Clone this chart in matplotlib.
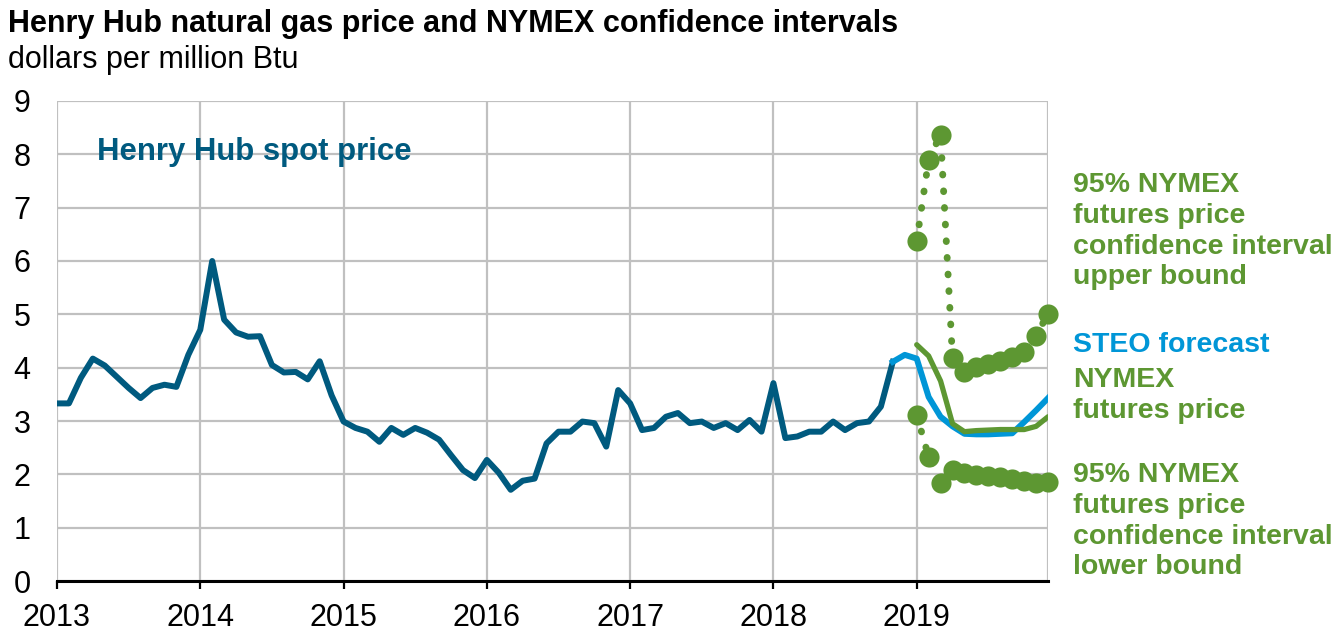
import numpy as np
import matplotlib.pyplot as plt

plt.rcParams['font.family'] = ['Liberation Sans', 'DejaVu Sans']

# monthly Henry Hub spot price, Jan 2013 - Nov 2018
spot = [3.33, 3.33, 3.81, 4.17, 4.04, 3.83, 3.62, 3.43, 3.62, 3.68, 3.64, 4.24,
        4.71, 6.00, 4.90, 4.66, 4.58, 4.59, 4.05, 3.91, 3.92, 3.78, 4.12, 3.48,
        2.99, 2.87, 2.80, 2.61, 2.87, 2.74, 2.87, 2.78, 2.65, 2.36, 2.08, 1.93,
        2.27, 2.03, 1.71, 1.88, 1.92, 2.58, 2.80, 2.80, 2.99, 2.96, 2.52, 3.58,
        3.33, 2.83, 2.87, 3.08, 3.15, 2.96, 2.99, 2.87, 2.96, 2.83, 3.02, 2.80,
        3.71, 2.68, 2.71, 2.80, 2.80, 2.99, 2.83, 2.96, 2.99, 3.27, 4.11]

# STEO forecast, Nov 2018 - Dec 2019
steo = [4.11, 4.24, 4.17, 3.45, 3.08, 2.90, 2.76, 2.75, 2.75, 2.76, 2.77, 2.98, 3.20, 3.43]

# NYMEX futures and 95% confidence interval, Jan 2019 - Dec 2019
nymex = [4.43, 4.22, 3.75, 2.95, 2.80, 2.82, 2.83, 2.84, 2.84, 2.84, 2.90, 3.08]
upper = [6.37, 7.90, 8.37, 4.18, 3.91, 4.01, 4.07, 4.13, 4.20, 4.30, 4.60, 5.01]
lower = [3.11, 2.33, 1.83, 2.08, 2.02, 1.99, 1.97, 1.95, 1.92, 1.87, 1.84, 1.86]

years = ['2013', '2014', '2015', '2016', '2017', '2018', '2019']

dark_blue = '#005A7F'
light_blue = '#0096D7'
green = '#5D9732'
grid_grey = '#C0C0C0'

x_spot = np.arange(len(spot))
x_steo = np.arange(len(spot) - 1, len(spot) - 1 + len(steo))
x_fc = np.arange(72, 72 + len(nymex))

fig = plt.figure(figsize=(13.44, 6.35), dpi=100)
ax = fig.add_axes([0.0424, 0.085, 0.7374, 0.756])

ax.plot(x_spot, spot, color=dark_blue, lw=4.3, solid_joinstyle='round', zorder=3)
ax.plot(x_steo, steo, color=light_blue, lw=4.3, solid_joinstyle='round', zorder=3)
ax.plot(x_fc, nymex, color=green, lw=3.8, solid_joinstyle='round',
        solid_capstyle='round', zorder=4)

# confidence bounds: dotted line plus big round markers
for band in (upper, lower):
    ax.plot(x_fc, band, color=green, lw=5.0, linestyle=(0, (0.1, 2.3)),
            dash_capstyle='round', zorder=4, clip_on=False)
    ax.plot(x_fc, band, 'o', color=green, ms=14.5, mec='none', zorder=5,
            clip_on=False)

ax.set_xlim(0, 83)
ax.set_ylim(0, 9)
ax.set_yticks(range(0, 10))
ax.set_xticks(range(0, 84, 12))
ax.set_xticklabels(years)
ax.grid(True, color=grid_grey, lw=1.6)
ax.axvline(83, color=grid_grey, lw=1.6)
ax.set_axisbelow(True)
for s in ('left', 'right', 'top'):
    ax.spines[s].set_visible(False)
ax.spines['bottom'].set_linewidth(2.2)
ax.spines['bottom'].set_zorder(6)
ax.tick_params(axis='x', direction='out', length=6, width=1.6, labelsize=22, pad=10)
ax.tick_params(axis='y', length=0, labelsize=22, pad=19)

ax.text(3.35, 8.05, 'Henry Hub spot price', color=dark_blue, fontsize=22.4,
        fontweight='bold', va='center', ha='left')

fig.text(0.006, 0.962, 'Henry Hub natural gas price and NYMEX confidence intervals',
         fontsize=22, fontweight='bold', va='center', ha='left')
fig.text(0.006, 0.905, 'dollars per million Btu', fontsize=22, va='center', ha='left')

lx = 1073 / 1344
kw = dict(fontsize=20.5, fontweight='bold', va='top', ha='left', linespacing=1.24)
fig.text(lx, 1 - 172 / 635, '95% NYMEX\nfutures price\nconfidence interval\nupper bound',
         color=green, **kw)
fig.text(lx, 1 - 332 / 635, 'STEO forecast', color=light_blue, **kw)
fig.text(lx, 1 - 367 / 635, 'NYMEX\nfutures price', color=green, **kw)
fig.text(lx, 1 - 462 / 635, '95% NYMEX\nfutures price\nconfidence interval\nlower bound',
         color=green, **kw)

fig.savefig('out.png', dpi=100)
